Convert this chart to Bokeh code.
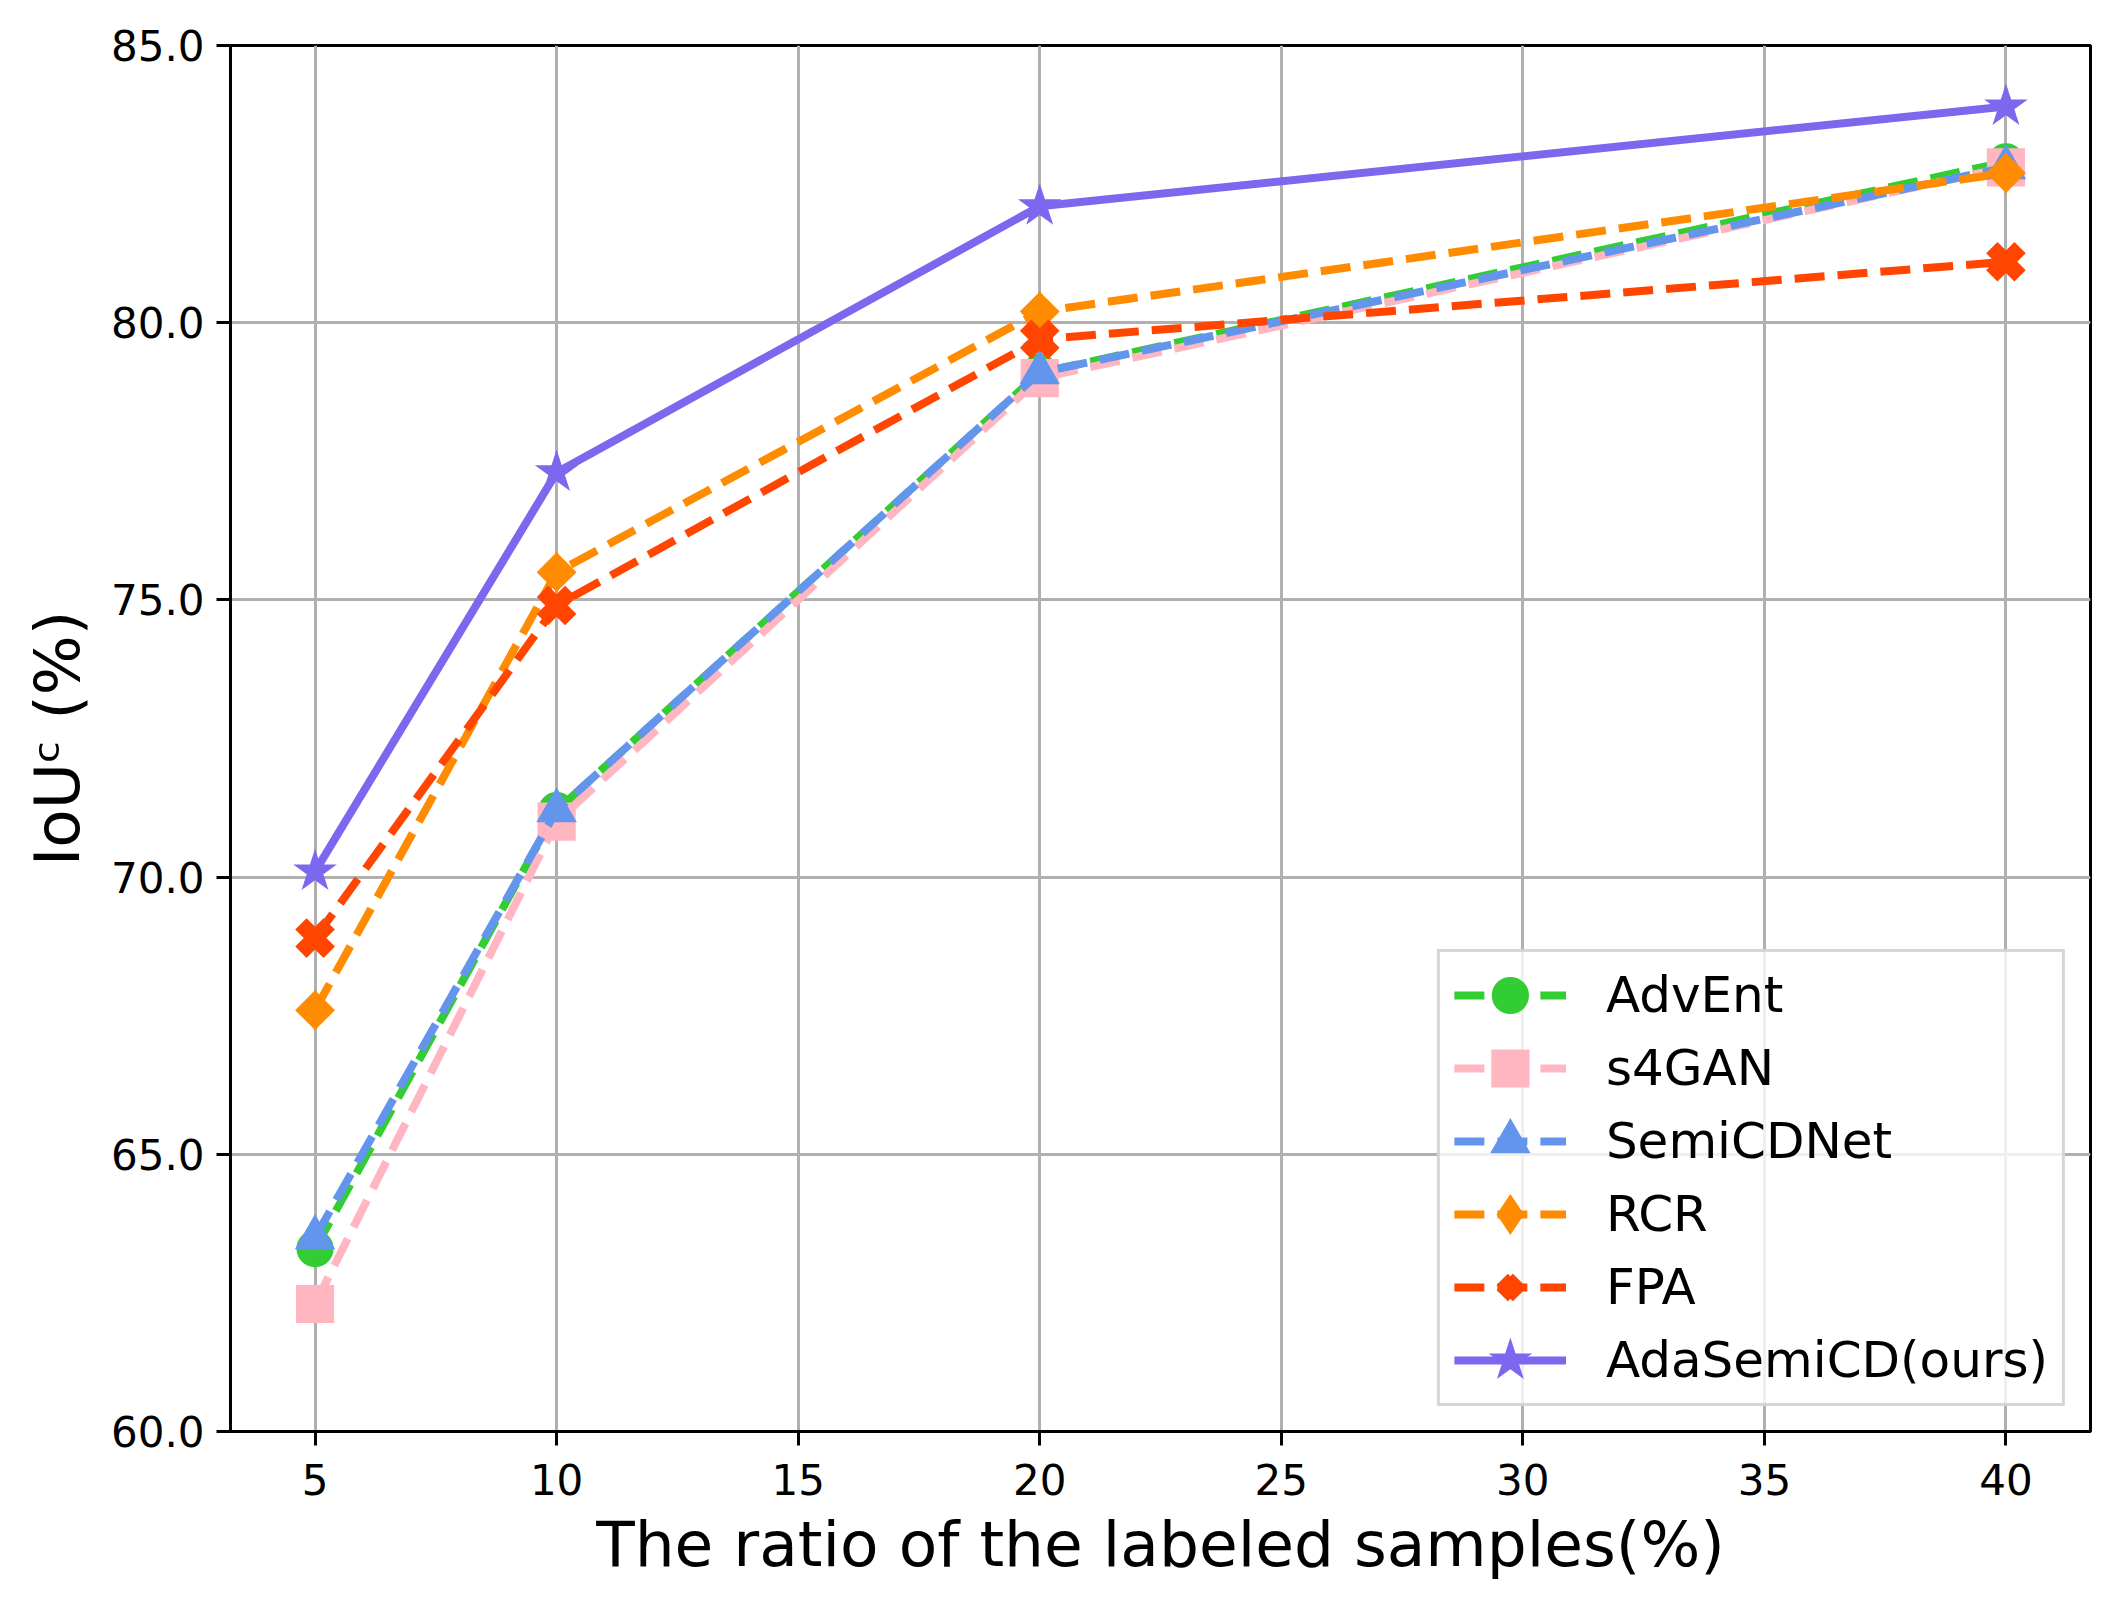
import math
from bokeh.plotting import figure
from bokeh.models import Range1d, FixedTicker, PrintfTickFormatter, Legend, LegendItem
from bokeh.embed import file_html
from bokeh.resources import INLINE

ratios = [5, 10, 20, 40]
names = ["AdvEnt", "s4GAN", "SemiCDNet", "RCR", "FPA", "AdaSemiCD(ours)"]
advent = [63.3, 71.2, 79.1, 82.9]
s4gan = [62.3, 71.0, 79.0, 82.8]
semicdnet = [63.5, 71.2, 79.1, 82.8]
rcr = [67.6, 75.5, 80.2, 82.7]
fpa = [68.9, 74.9, 79.7, 81.1]
adasemicd = [70.1, 77.3, 82.1, 83.9]
x_ticks = [5, 10, 15, 20, 25, 30, 35, 40]
y_ticks = [60, 65, 70, 75, 80, 85]

series = [advent, s4gan, semicdnet, rcr, fpa, adasemicd]
colors = ["#32CD32", "#FFB6C1", "#6495ED", "#FF8C00", "#FF4500", "#7B68EE"]
markers = ["circle", "square", "triangle", "diamond", "x", "star"]
BASE = 23.2  # equals the marker size Bokeh uses inside the legend
msizes = [BASE, BASE, BASE, BASE, 40, BASE]
mlw = [14, 15, 10, 10, 16, 7]
dashes = ["30 13"] * 5 + ["solid"]

FONT = "DejaVu Sans"

p = figure(width=2103, height=1594, output_backend="svg", toolbar_location=None,
           x_range=Range1d(3.25, 41.75), y_range=Range1d(60, 85),
           min_border_left=230, min_border_right=13, min_border_top=45, min_border_bottom=163)
p.background_fill_color = "white"
p.border_fill_color = "white"
p.outline_line_color = "black"
p.outline_line_width = 3
p.outline_line_alpha = 1

for ax in (p.xaxis[0], p.yaxis[0]):
    ax.axis_line_width = 3
    ax.axis_line_color = "black"
    ax.major_tick_line_width = 3
    ax.major_tick_line_color = "black"
    ax.major_tick_out = 14
    ax.major_tick_in = 0
    ax.minor_tick_out = 0
    ax.minor_tick_in = 0
    ax.major_label_text_font = FONT
    ax.major_label_text_font_size = "42px"
    ax.major_label_text_color = "black"
    ax.axis_label_text_font = FONT
    ax.axis_label_text_font_size = "63px"
    ax.axis_label_text_font_style = "normal"
    ax.axis_label_text_color = "black"

p.xaxis.ticker = FixedTicker(ticks=x_ticks)
p.yaxis.ticker = FixedTicker(ticks=y_ticks)
p.yaxis.formatter = PrintfTickFormatter(format="%.1f")
p.xaxis.major_label_standoff = 18
p.yaxis.major_label_standoff = 12
p.xaxis.axis_label = "The ratio of the labeled samples(%)"
p.yaxis.axis_label = "IoUᶜ (%)"
p.xaxis.axis_label_standoff = 10
p.yaxis.axis_label_standoff = 14

p.xgrid[0].ticker = FixedTicker(ticks=x_ticks)
p.ygrid[0].ticker = FixedTicker(ticks=y_ticks)
for g in (p.xgrid[0], p.ygrid[0]):
    g.grid_line_color = "#b0b0b0"
    g.grid_line_width = 3

items = []
for name, ys, c, m, s, lw, d in zip(names, series, colors, markers, msizes, mlw, dashes):
    r1 = p.line(ratios, ys, line_color=c, line_width=8, line_dash=d)
    if m == "x":
        r2 = p.scatter(ratios, ys, marker=m, size=s, line_color=c, line_width=lw)
    else:
        r2 = p.scatter(ratios, ys, marker=m, size=s, fill_color=c, line_color=c,
                       line_width=lw, line_join="miter")
    if m == "diamond":
        # matplotlib-style wide diamond drawn over the (legend) diamond
        p.scatter(ratios, ys, marker="square", size=BASE, angle=math.pi / 4,
                  fill_color=c, line_color=c, line_width=5, line_join="miter")
    items.append(LegendItem(label=name, renderers=[r1, r2]))

legend = Legend(items=items, location="bottom_right")
legend.margin = 25
legend.padding = 14
legend.spacing = 15
legend.glyph_width = 112
legend.glyph_height = 58
legend.label_height = 58
legend.label_standoff = 40
legend.label_text_font = FONT
legend.label_text_font_size = "50px"
legend.label_text_color = "black"
legend.border_line_color = "#cccccc"
legend.border_line_width = 3
legend.border_line_alpha = 0.8
legend.background_fill_color = "white"
legend.background_fill_alpha = 0.8
p.add_layout(legend, "center")

open("out.html", "w").write(file_html(p, INLINE))
